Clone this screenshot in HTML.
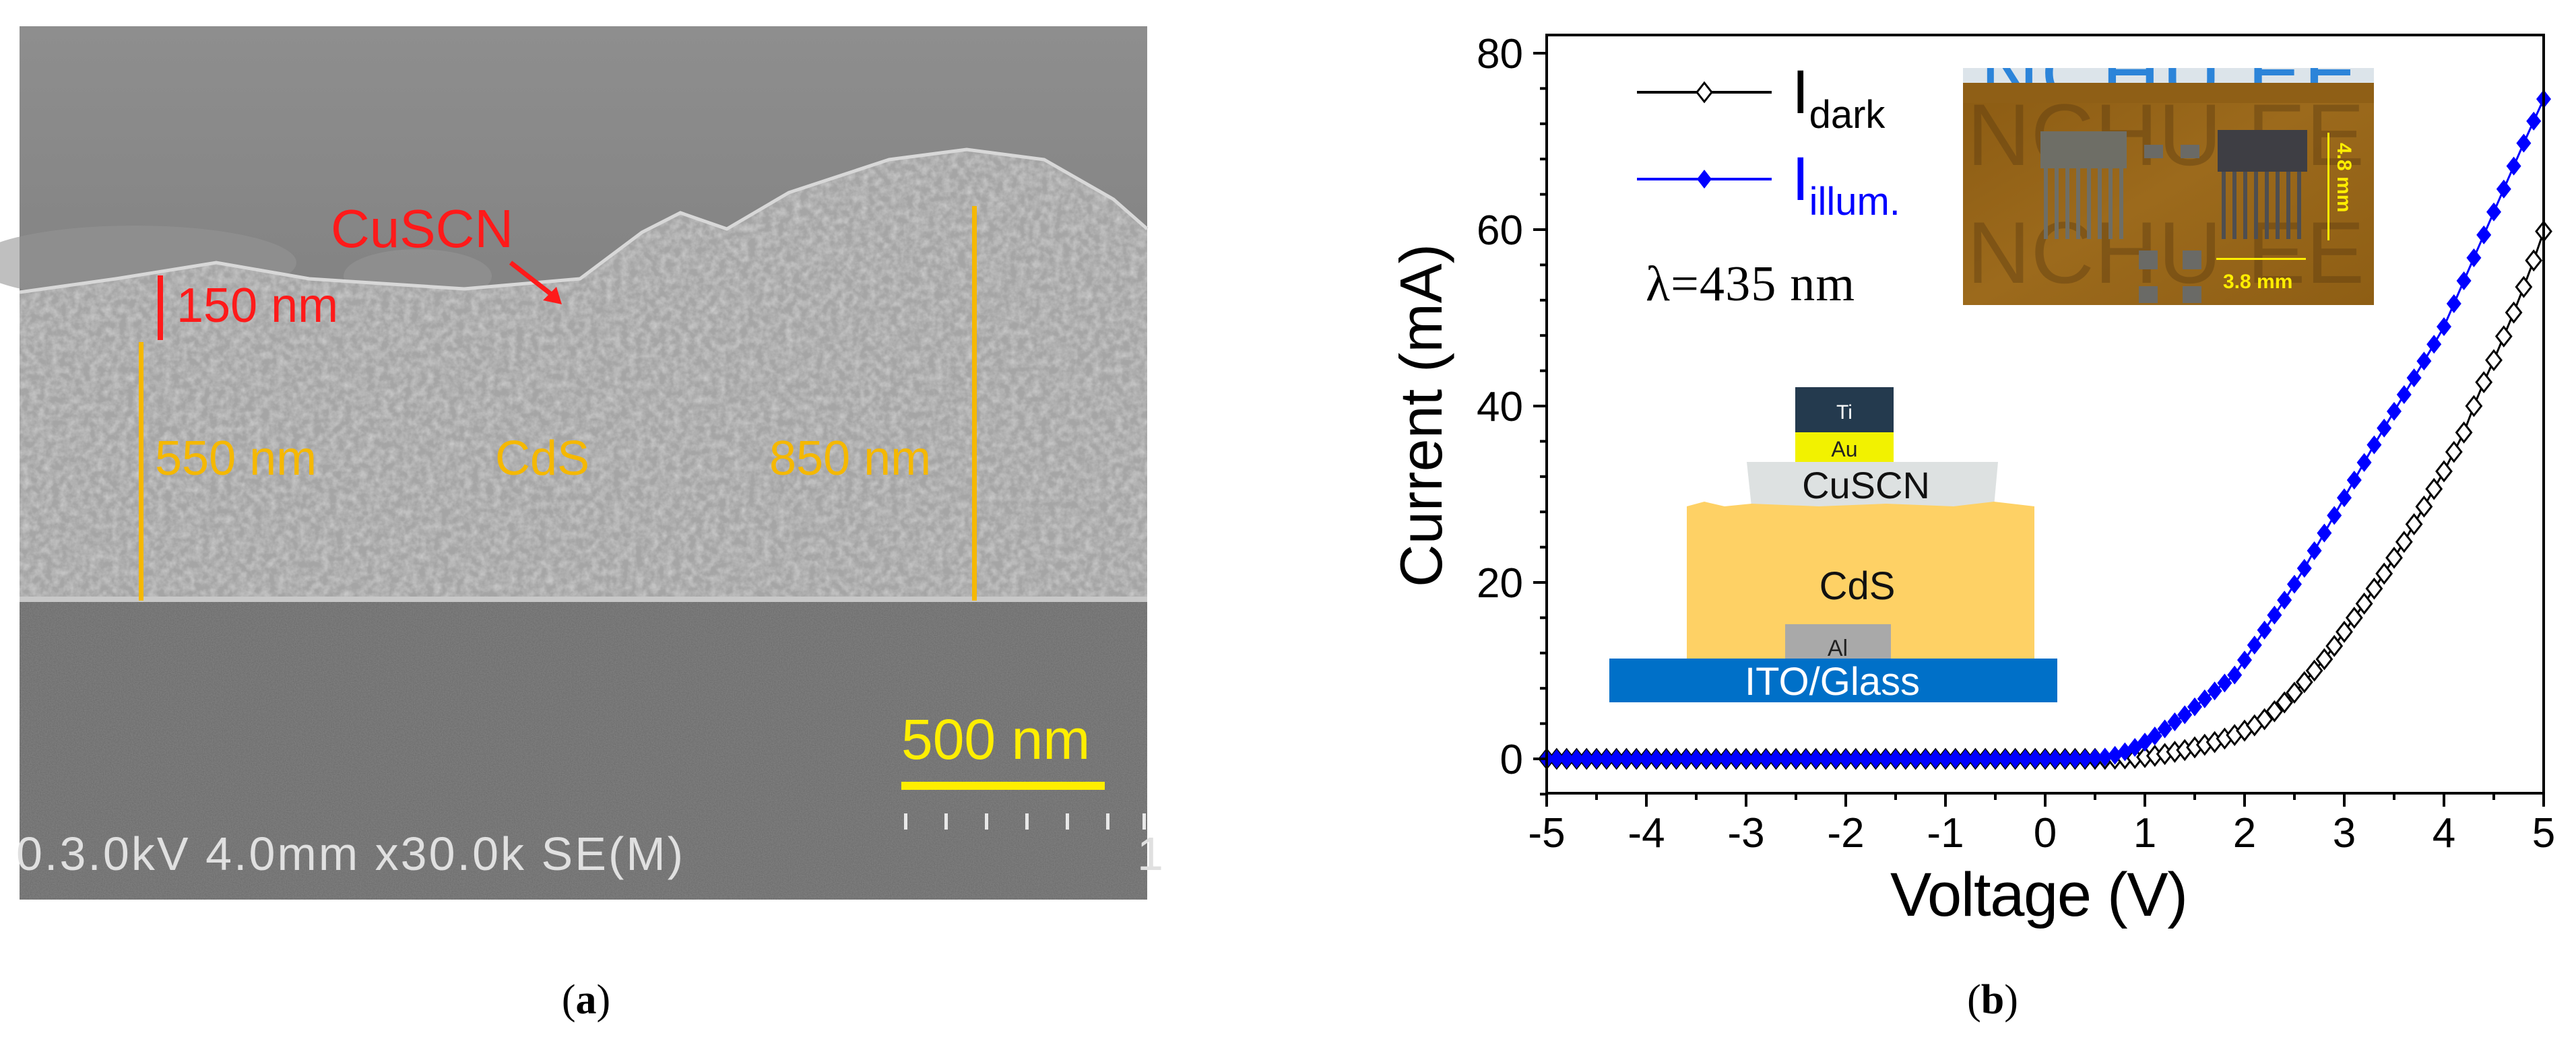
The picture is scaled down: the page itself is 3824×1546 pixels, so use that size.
<!DOCTYPE html>
<html><head><meta charset="utf-8"><style>
html,body{margin:0;padding:0;background:#fff;}
svg{display:block;}
</style></head><body>
<svg id="root" width="3824" height="1546" viewBox="0 0 3824 1546" xmlns="http://www.w3.org/2000/svg">
<defs>
<filter id="grain" x="0" y="0" width="100%" height="100%">
<feTurbulence type="fractalNoise" baseFrequency="0.09" numOctaves="3" seed="4" result="n"/>
<feColorMatrix in="n" type="matrix" values="0 0 0 0 0.62  0 0 0 0 0.62  0 0 0 0 0.62  0 0 0 -1.6 1.1" result="c"/>
<feComposite in="c" in2="SourceGraphic" operator="in"/>
</filter>
<filter id="fine" x="0" y="0" width="100%" height="100%">
<feTurbulence type="fractalNoise" baseFrequency="0.6" numOctaves="1" seed="2" result="n"/>
<feColorMatrix in="n" type="matrix" values="0 0 0 0 0.5  0 0 0 0 0.5  0 0 0 0 0.5  0 0 0 -1 0.8" result="c"/>
<feComposite in="c" in2="SourceGraphic" operator="in"/>
</filter>
<linearGradient id="sky" x1="0" y1="0" x2="0" y2="1">
<stop offset="0" stop-color="#8e8e8e"/><stop offset="0.5" stop-color="#7c7c7c"/><stop offset="1" stop-color="#969696"/>
</linearGradient>
<linearGradient id="photo" x1="0" y1="0" x2="1" y2="1">
<stop offset="0" stop-color="#8a5a12"/><stop offset="0.5" stop-color="#9c6a1c"/><stop offset="1" stop-color="#8e5e14"/>
</linearGradient>
<clipPath id="photoClip"><rect x="2914" y="101" width="610" height="352"/></clipPath>
</defs>

<!-- Panel (a): SEM image -->
<g>
<rect x="29" y="39" width="1674" height="1297" fill="url(#sky)"/>
<ellipse cx="200" cy="390" rx="240" ry="55" fill="#949494" opacity="0.6"/>
<ellipse cx="620" cy="410" rx="110" ry="40" fill="#939393" opacity="0.7"/>
<path d="M29 434 L172 414 L321 390 L459 414 L689 429 L861 414 L953 345 L1010 316 L1079 340 L1171 286 L1320 237 L1435 222 L1550 237 L1653 296 L1703 340 L1703 892 L29 892 Z" fill="#a5a5a5"/>
<path d="M29 434 L172 414 L321 390 L459 414 L689 429 L861 414 L953 345 L1010 316 L1079 340 L1171 286 L1320 237 L1435 222 L1550 237 L1653 296 L1703 340 L1703 892 L29 892 Z" fill="#000" filter="url(#grain)" opacity="0.9"/>
<path d="M29 434 L172 414 L321 390 L459 414 L689 429 L861 414 L953 345 L1010 316 L1079 340 L1171 286 L1320 237 L1435 222 L1550 237 L1653 296 L1703 340" fill="none" stroke="#d8d8d8" stroke-width="5"/>
<rect x="29" y="892" width="1674" height="444" fill="#6f6f6f"/>
<rect x="29" y="892" width="1674" height="444" fill="#000" filter="url(#fine)" opacity="0.35"/>
<rect x="29" y="886" width="1674" height="8" fill="#c8c8c8"/>
<text x="491" y="367" font-family="Liberation Sans, sans-serif" font-size="80" fill="#ff1a1a">CuSCN</text>
<path d="M758 390 L826 443" stroke="#ff1a1a" stroke-width="7" fill="none"/>
<path d="M834 452 L806 446 L826 426 Z" fill="#ff1a1a"/>
<rect x="234" y="409" width="8" height="96" fill="#ff1a1a"/>
<text x="262" y="478" font-family="Liberation Sans, sans-serif" font-size="72" fill="#ff1a1a">150 nm</text>
<rect x="206" y="508" width="7" height="384" fill="#f5b800"/>
<rect x="1443" y="306" width="7" height="586" fill="#f5b800"/>
<text x="230" y="705" font-family="Liberation Sans, sans-serif" font-size="72" fill="#f5b800">550 nm</text>
<text x="735" y="705" font-family="Liberation Sans, sans-serif" font-size="72" fill="#f5b800">CdS</text>
<text x="1142" y="705" font-family="Liberation Sans, sans-serif" font-size="72" fill="#f5b800">850 nm</text>
<text x="1338" y="1127" font-family="Liberation Sans, sans-serif" font-size="84" fill="#ffee00">500 nm</text>
<rect x="1338" y="1161" width="302" height="12" fill="#ffee00"/>
<g fill="#e8e8e8">
<rect x="1342" y="1208" width="5" height="24"/><rect x="1402" y="1208" width="5" height="24"/><rect x="1462" y="1208" width="5" height="24"/><rect x="1522" y="1208" width="5" height="24"/><rect x="1582" y="1208" width="5" height="24"/><rect x="1642" y="1208" width="5" height="24"/><rect x="1696" y="1208" width="5" height="24"/>
</g>
<text x="24" y="1292" font-family="Liberation Sans, sans-serif" font-size="70" fill="#e0e0e0" textLength="990">0.3.0kV 4.0mm x30.0k SE(M)</text>
<text x="1688" y="1292" font-family="Liberation Sans, sans-serif" font-size="70" fill="#e0e0e0">1</text>
</g>
<text x="870" y="1505" font-family="Liberation Serif, serif" font-size="62" fill="#000" text-anchor="middle">(<tspan font-weight="bold">a</tspan>)</text>
<text x="2958" y="1505" font-family="Liberation Serif, serif" font-size="62" fill="#000" text-anchor="middle">(<tspan font-weight="bold">b</tspan>)</text>

<!-- Panel (b): IV chart -->
<g id="chart">
<g>
<rect x="2665" y="575" width="146" height="67" fill="#243a4e"/>
<text x="2738" y="622" font-family="Liberation Sans, sans-serif" font-size="30" fill="#fff" text-anchor="middle">Ti</text>
<rect x="2665" y="642" width="146" height="44" fill="#f2f200"/>
<text x="2738" y="678" font-family="Liberation Sans, sans-serif" font-size="32" fill="#222" text-anchor="middle">Au</text>
<path d="M2593 686 L2966 686 L2960 752 L2600 752 Z" fill="#dde1e1"/>
<text x="2770" y="740" font-family="Liberation Sans, sans-serif" font-size="56" fill="#111" text-anchor="middle">CuSCN</text>
<path d="M2504 752 L2530 745 L2560 752 L2600 748 L2700 752 L2800 748 L2900 752 L2960 745 L3020 752 L3020 978 L2504 978 Z" fill="#fed165"/>
<text x="2757" y="890" font-family="Liberation Sans, sans-serif" font-size="58" fill="#111" text-anchor="middle">CdS</text>
<rect x="2650" y="927" width="157" height="51" fill="#a9a9a9"/>
<text x="2728" y="974" font-family="Liberation Sans, sans-serif" font-size="34" fill="#222" text-anchor="middle">Al</text>
<rect x="2389" y="978" width="665" height="65" fill="#0070c8"/>
<text x="2720" y="1032" font-family="Liberation Sans, sans-serif" font-size="58" fill="#fff" text-anchor="middle">ITO/Glass</text>
</g>
<g clip-path="url(#photoClip)">
<rect x="2914" y="101" width="610" height="352" fill="url(#photo)"/>
<rect x="2914" y="101" width="610" height="22" fill="#dce4ea"/>
<text x="2940" y="150" font-family="Liberation Sans, sans-serif" font-size="120" fill="#1a7ad8" opacity="0.9" textLength="560">NCHU EE</text>
<rect x="2914" y="123" width="610" height="30" fill="#8f5f16"/>
<text x="2920" y="245" font-family="Liberation Sans, sans-serif" font-size="130" fill="#5a3a10" opacity="0.4" textLength="590">NCHU EE</text>
<text x="2920" y="420" font-family="Liberation Sans, sans-serif" font-size="130" fill="#5a3a10" opacity="0.4" textLength="590">NCHU EE</text>
<rect x="3029" y="195" width="128" height="55" fill="#6e6e66"/>
<g fill="#6e6e66"><rect x="3034" y="250" width="6" height="105"/><rect x="3050" y="250" width="6" height="105"/><rect x="3066" y="250" width="6" height="105"/><rect x="3082" y="250" width="6" height="105"/><rect x="3098" y="250" width="6" height="105"/><rect x="3114" y="250" width="6" height="105"/><rect x="3130" y="250" width="6" height="105"/><rect x="3146" y="250" width="6" height="105"/></g>
<rect x="3292" y="193" width="133" height="62" fill="#3e3e44"/>
<g fill="#4e4e50"><rect x="3298" y="255" width="6" height="100"/><rect x="3314" y="255" width="6" height="100"/><rect x="3330" y="255" width="6" height="100"/><rect x="3346" y="255" width="6" height="100"/><rect x="3362" y="255" width="6" height="100"/><rect x="3378" y="255" width="6" height="100"/><rect x="3394" y="255" width="6" height="100"/><rect x="3410" y="255" width="6" height="100"/></g>
<rect x="3183" y="215" width="28" height="20" fill="#6a6a66"/><rect x="3237" y="215" width="28" height="20" fill="#6a6a66"/>
<rect x="3175" y="372" width="28" height="28" fill="#6a6a66"/><rect x="3240" y="372" width="28" height="28" fill="#6a6a66"/>
<rect x="3175" y="425" width="28" height="25" fill="#6a6a66"/><rect x="3240" y="425" width="28" height="25" fill="#6a6a66"/>
<rect x="3455" y="197" width="3" height="160" fill="#ffee00"/>
<text transform="translate(3470,212) rotate(90)" font-family="Liberation Sans, sans-serif" font-weight="bold" font-size="30" fill="#ffee00">4.8 mm</text>
<rect x="3290" y="383" width="133" height="3" fill="#ffee00"/>
<text x="3300" y="428" font-family="Liberation Sans, sans-serif" font-weight="bold" font-size="30" fill="#ffee00">3.8 mm</text>
</g>
<g id="marks"></g>
<g id="axes"></g>
<g>
<g>
<line x1="2430" y1="137" x2="2630" y2="137" stroke="#000" stroke-width="4"/>
<path d="M2530 123 L2541 137 L2530 151 L2519 137 Z" fill="#fff" stroke="#000" stroke-width="3"/>
<text x="2660" y="168" font-family="Liberation Sans, sans-serif" font-size="92" fill="#000">I<tspan font-size="58" dy="22">dark</tspan></text>
</g>
<g>
<line x1="2430" y1="266" x2="2630" y2="266" stroke="#0000ff" stroke-width="4"/>
<path d="M2530 252 L2541 266 L2530 280 L2519 266 Z" fill="#0000ff"/>
<text x="2660" y="297" font-family="Liberation Sans, sans-serif" font-size="92" fill="#0000ff">I<tspan font-size="58" dy="22">illum.</tspan></text>
</g>
</g>
<text x="2443" y="446" font-family="Liberation Serif, serif" font-size="74" fill="#000" textLength="310">λ=435 nm</text>
<text transform="translate(2140,617) rotate(-90)" font-family="Liberation Sans, sans-serif" font-size="88" fill="#000" text-anchor="middle" textLength="510">Current (mA)</text>
<text x="3027" y="1360" font-family="Liberation Sans, sans-serif" font-size="92" fill="#000" text-anchor="middle" textLength="442">Voltage (V)</text>
</g>
</svg>
<script>
const voltages = [-5.0,-4.9,-4.8,-4.7,-4.6,-4.5,-4.4,-4.3,-4.2,-4.1,-4.0,-3.9,-3.8,-3.7,-3.6,-3.5,-3.4,-3.3,-3.2,-3.1,-3.0,-2.9,-2.8,-2.7,-2.6,-2.5,-2.4,-2.3,-2.2,-2.1,-2.0,-1.9,-1.8,-1.7,-1.6,-1.5,-1.4,-1.3,-1.2,-1.1,-1.0,-0.9,-0.8,-0.7,-0.6,-0.5,-0.4,-0.3,-0.2,-0.1,0.0,0.1,0.2,0.3,0.4,0.5,0.6,0.7,0.8,0.9,1.0,1.1,1.2,1.3,1.4,1.5,1.6,1.7,1.8,1.9,2.0,2.1,2.2,2.3,2.4,2.5,2.6,2.7,2.8,2.9,3.0,3.1,3.2,3.3,3.4,3.5,3.6,3.7,3.8,3.9,4.0,4.1,4.2,4.3,4.4,4.5,4.6,4.7,4.8,4.9,5.0];
const darkCurrent = [0,0,0,0,0,0,0,0,0,0,0,0,0,0,0,0,0,0,0,0,0,0,0,0,0,0,0,0,0,0,0,0,0,0,0,0,0,0,0,0,0,0,0,0,0,0,0,0,0,0,0,0,0,0,0,0,0,0.02,0.05,0.1,0.2,0.35,0.55,0.8,1.0,1.3,1.6,1.9,2.3,2.7,3.2,3.8,4.5,5.4,6.4,7.5,8.7,10.0,11.3,12.8,14.4,16.0,17.6,19.3,21.0,22.8,24.6,26.6,28.6,30.6,32.6,34.8,37.0,40.0,42.7,45.2,47.9,50.6,53.5,56.5,59.8];
const illumCurrent = [0,0,0,0,0,0,0,0,0,0,0,0,0,0,0,0,0,0,0,0,0,0,0,0,0,0,0,0,0,0,0,0,0,0,0,0,0,0,0,0,0,0,0,0,0,0,0,0,0,0,0,0,0,0,0.02,0.1,0.2,0.4,0.8,1.3,1.9,2.6,3.4,4.2,5.0,5.9,6.8,7.7,8.6,9.5,11.2,12.9,14.6,16.3,18.0,19.8,21.6,23.6,25.6,27.6,29.6,31.6,33.6,35.6,37.5,39.4,41.3,43.2,45.1,47.0,49.0,51.6,54.2,56.8,59.4,62.0,64.6,67.2,69.8,72.3,74.8];
const xTicks = [-5,-4,-3,-2,-1,0,1,2,3,4,5];
const xTickLabels = ["-5","-4","-3","-2","-1","0","1","2","3","4","5"];
const yTicks = [0,20,40,60,80];
const yTickLabels = ["0","20","40","60","80"];

const NS = "http://www.w3.org/2000/svg";
const X0 = 2296, X1 = 3776, YB = 1178, YT = 52;
function xs(v){ return X0 + (v + 5) / 10 * (X1 - X0); }
function ys(v){ return 1127 - v / 80 * (1127 - 79); }
function mk(tag, attrs, parent){ const e = document.createElementNS(NS, tag); for (const k in attrs) e.setAttribute(k, attrs[k]); parent.appendChild(e); return e; }

const marks = document.getElementById('marks');
const axes = document.getElementById('axes');

function series(vals, color, filled, name){
  const g = mk('g', {}, marks);
  
  
  const d = vals.map((v,i)=> (i?'L':'M') + xs(voltages[i]).toFixed(1) + ' ' + ys(v).toFixed(1)).join(' ');
  const line = mk('path', {d:d, fill:'none', stroke:color, 'stroke-width':3}, g);
  
  
  vals.forEach((v,i)=>{
    const cx = xs(voltages[i]), cy = ys(v);
    const p = mk('path', {d:`M${cx} ${cy-14} L${cx+11} ${cy} L${cx} ${cy+14} L${cx-11} ${cy} Z`,
      fill: filled ? color : '#fff', stroke: filled ? 'none' : color, 'stroke-width':3}, g);
    
    
  });
}
series(darkCurrent, '#000', false, 'dark-series');
series(illumCurrent, '#0000ff', true, 'illum-series');

const frame = mk('rect', {x:X0, y:YT, width:X1-X0, height:YB-YT, fill:'none', stroke:'#000', 'stroke-width':4}, axes);


for (let v = -5; v <= 5.001; v += 0.5){
  const major = Math.abs(v - Math.round(v)) < 1e-6;
  const t = mk('line', {x1:xs(v), x2:xs(v), y1:YB, y2:YB + (major?20:10), stroke:'#000', 'stroke-width':4}, axes);
  
  
}
xTicks.forEach((v,i)=>{
  const t = mk('text', {x:xs(v), y:1258, 'font-family':'Liberation Sans, sans-serif', 'font-size':62, 'text-anchor':'middle'}, axes);
  t.textContent = xTickLabels[i];
  
  
});
for (let v = -4; v <= 80; v += 4){
  const major = v % 20 === 0;
  const t = mk('line', {x1:X0, x2:X0 - (major?20:10), y1:ys(v), y2:ys(v), stroke:'#000', 'stroke-width':4}, axes);
  
  
}
yTicks.forEach((v,i)=>{
  const t = mk('text', {x:2261, y:ys(v)+22, 'font-family':'Liberation Sans, sans-serif', 'font-size':62, 'text-anchor':'end'}, axes);
  t.textContent = yTickLabels[i];
  
  
});
</script>
</body></html>
